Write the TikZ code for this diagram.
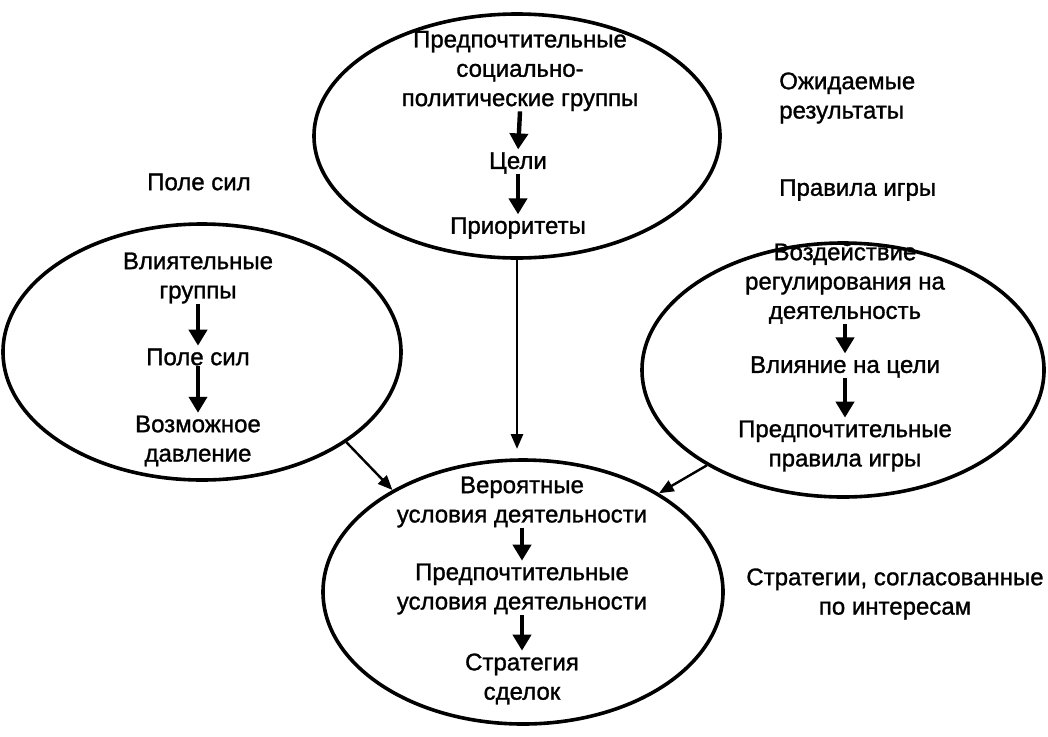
\documentclass[tikz,border=0pt]{standalone}
\usepackage{fontspec}
\setmainfont[FakeBold=1.2]{Liberation Sans}
\usetikzlibrary{shapes.geometric,arrows.meta}

\begin{document}
\begin{tikzpicture}[x=0.75pt,y=0.75pt,yscale=-1,xscale=1,
  oval/.style={draw,ellipse,line width=2.7pt,inner sep=0pt},
  txt/.style={inner sep=0pt,align=center,font=\fontsize{18pt}{22pt}\selectfont},
  flow/.style={line width=3.3pt,-{Triangle[length=12pt,width=13.5pt]},shorten >=2pt},
  link/.style={line width=1.8pt,-{Triangle[length=11pt,width=9pt]}}]
\useasboundingbox (0,0) rectangle (1048,736);

%Shape: Ellipse
\draw (517,136) node [oval,minimum width=304.5pt,minimum height=183pt] (top) {};
%Shape: Ellipse
\draw (202,352) node [oval,minimum width=298.5pt,minimum height=192pt] (left) {};
%Shape: Ellipse
\draw (843,370) node [oval,minimum width=301.5pt,minimum height=190.5pt] (right) {};
%Shape: Ellipse
\draw (523,592) node [oval,minimum width=300pt,minimum height=198pt] (bot) {};

% Text Node
\draw (520,71) node [txt] (top1) {Предпочтительные\\социально-\\политические группы};
% Text Node
\draw (518,163) node [txt] (top2) {Цели};
% Text Node
\draw (518,228) node [txt] (top3) {Приоритеты};
% Text Node
\draw (198,278) node [txt] (left1) {Влиятельные\\группы};
% Text Node
\draw (198,357) node [txt] (left2) {Поле сил};
% Text Node
\draw (198,441) node [txt] (left3) {Возможное\\давление};
% Text Node
\draw (845,283) node [txt] (right1) {Воздействие\\регулирования на\\деятельность};
% Text Node
\draw (845,367) node [txt] (right2) {Влияние на цели};
% Text Node
\draw (845,446) node [txt] (right3) {Предпочтительные\\правила игры};
% Text Node
\draw (522,502) node [txt] (bot1) {Вероятные\\условия деятельности};
% Text Node
\draw (522,589) node [txt] (bot2) {Предпочтительные\\условия деятельности};
% Text Node
\draw (522,679) node [txt] (bot3) {Стратегия\\сделок};

% Text Node
\draw (199,182) node [txt] (field) {Поле сил};
% Text Node
\draw (779,98) node [txt,anchor=west,align=left] (expect) {Ожидаемые\\результаты};
% Text Node
\draw (779,190) node [txt,anchor=west] (rules) {Правила игры};
% Text Node
\draw (895,594) node [txt] (strat) {Стратегии, согласованные\\по интересам};

%Straight Lines
\draw [flow] (top1.south) -- (top2.north);
\draw [flow] (top2.south) -- (top3.north);
\draw [flow] (left1.south) -- (left2.north);
\draw [flow] (left2.south) -- (left3.north);
\draw [flow] (right1.south) -- (right2.north);
\draw [flow] (right2.south) -- (right3.north);
\draw [flow] (bot1.south) -- (bot2.north);
\draw [flow] (bot2.south) -- (bot3.north);

%Straight Lines
\draw [link,shorten >=7pt] (top.south) -- (top.south |- bot.north);
\draw [link] (left.-32) -- (bot.142);
\draw [link] (right.215) -- (bot.36);

\end{tikzpicture}
\end{document}
